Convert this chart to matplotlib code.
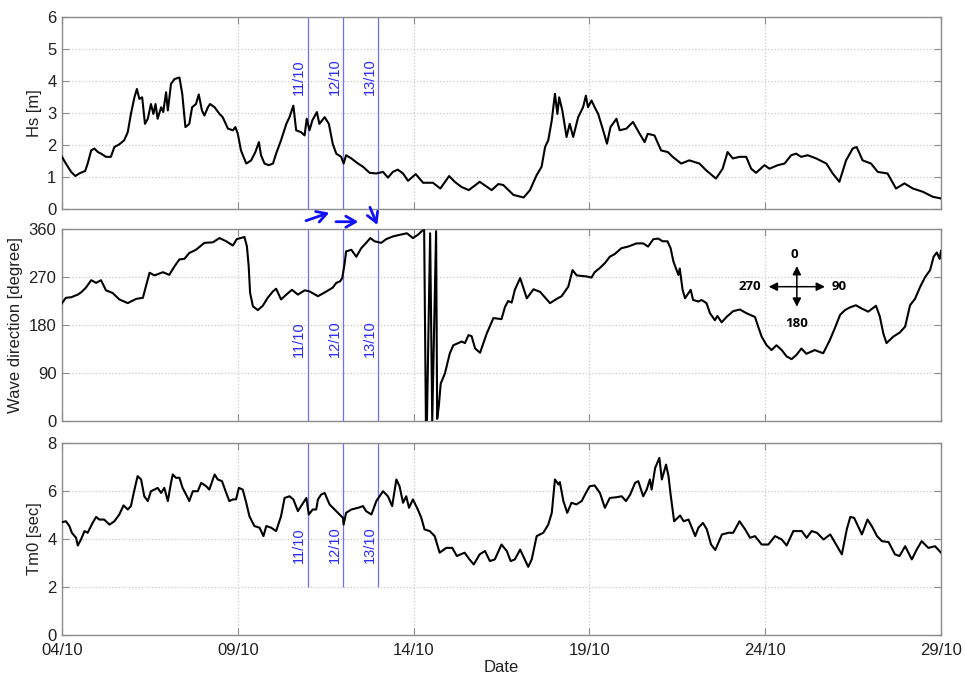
import matplotlib
matplotlib.use("Agg")
import matplotlib.pyplot as plt

plt.rcParams['font.family'] = ['Liberation Sans', 'DejaVu Sans']

# x is days after 04/10 00:00
date_ticks = [0, 5, 10, 15, 20, 25]
date_labels = ['04/10', '09/10', '14/10', '19/10', '24/10', '29/10']
event_days = [7, 8, 9]
event_labels = ['11/10', '12/10', '13/10']

hs_days = [0, 0.11, 0.26, 0.38, 0.49, 0.66, 0.73, 0.83, 0.92, 1.02, 1.11, 1.25, 1.39, 1.49, 1.63, 1.77,
           1.87, 1.96, 2.06, 2.13, 2.2, 2.28, 2.36, 2.44, 2.53, 2.6, 2.66, 2.72, 2.82, 2.88, 2.96, 3.01,
           3.1, 3.2, 3.34, 3.42, 3.51, 3.62, 3.7, 3.81, 3.89, 3.98, 4.05, 4.15, 4.21, 4.34, 4.48, 4.57,
           4.72, 4.86, 4.93, 5.0, 5.09, 5.24, 5.38, 5.5, 5.6, 5.66, 5.76, 5.88, 6.0, 6.09, 6.23, 6.38,
           6.47, 6.58, 6.66, 6.8, 6.9, 6.96, 7.04, 7.12, 7.25, 7.32, 7.47, 7.59, 7.7, 7.8, 7.94, 8.01,
           8.08, 8.23, 8.42, 8.56, 8.75, 8.94, 9.13, 9.27, 9.41, 9.55, 9.7, 9.84, 10.06, 10.27, 10.55,
           10.76, 11.01, 11.17, 11.36, 11.57, 11.88, 12.22, 12.41, 12.55, 12.84, 13.13, 13.31, 13.5,
           13.64, 13.74, 13.83, 13.93, 14.02, 14.09, 14.14, 14.23, 14.35, 14.44, 14.54, 14.68, 14.82,
           14.9, 14.96, 15.06, 15.15, 15.25, 15.39, 15.5, 15.6, 15.77, 15.86, 16.05, 16.24, 16.43,
           16.57, 16.66, 16.85, 17.04, 17.23, 17.37, 17.61, 17.84, 18.13, 18.32, 18.6, 18.79, 18.93,
           19.08, 19.27, 19.46, 19.6, 19.74, 19.98, 20.12, 20.36, 20.55, 20.74, 20.88, 21.02, 21.21,
           21.45, 21.74, 21.92, 22.11, 22.3, 22.49, 22.6, 22.77, 23.01, 23.2, 23.48, 23.72, 23.96,
           24.2, 24.48, 24.77, 25.0]
hs_vals = [1.63, 1.42, 1.16, 1.03, 1.11, 1.19, 1.42, 1.83, 1.89, 1.78, 1.73, 1.63, 1.63, 1.94, 2.02, 2.15,
           2.4, 2.97, 3.49, 3.75, 3.44, 3.49, 2.66, 2.82, 3.28, 2.97, 3.28, 2.82, 3.18, 3.03, 3.65, 3.08,
           3.91, 4.06, 4.11, 3.6, 2.56, 2.66, 3.18, 3.28, 3.58, 3.08, 2.92, 3.18, 3.28, 3.18, 2.97, 2.87,
           2.51, 2.46, 2.56, 2.35, 1.83, 1.42, 1.52, 1.78, 2.09, 1.68, 1.42, 1.37, 1.42, 1.73, 2.15, 2.66,
           2.87, 3.23, 2.46, 2.4, 2.3, 2.82, 2.46, 2.77, 3.03, 2.66, 2.87, 2.66, 2.04, 1.73, 1.63, 1.42,
           1.68, 1.58, 1.42, 1.32, 1.13, 1.11, 1.16, 0.98, 1.16, 1.23, 1.11, 0.88, 1.09, 0.82, 0.82,
           0.64, 1.03, 0.85, 0.69, 0.59, 0.85, 0.59, 0.78, 0.75, 0.44, 0.36, 0.59, 1.06,
           1.32, 1.94, 2.15, 2.77, 3.6, 2.97, 3.49, 3.08, 2.25, 2.66, 2.25, 2.87, 3.18,
           3.54, 3.18, 3.39, 3.18, 2.97, 2.46, 2.04, 2.56, 2.82, 2.46, 2.51, 2.72, 2.35,
           2.09, 2.35, 2.3, 1.83, 1.78, 1.63, 1.42, 1.52, 1.42, 1.21, 0.95, 1.26, 1.78,
           1.58, 1.63, 1.63, 1.26, 1.13, 1.37, 1.26, 1.37, 1.42, 1.68, 1.73, 1.63, 1.68,
           1.58, 1.42, 1.11, 0.85, 1.52, 1.89, 1.94, 1.52, 1.42, 1.16, 1.11, 0.64, 0.8,
           0.64, 0.54, 0.38, 0.33]

dir_days = [0, 0.11, 0.26, 0.45, 0.54, 0.68, 0.83, 0.97, 1.11, 1.25, 1.44, 1.63, 1.87, 2.11, 2.3, 2.39,
            2.49, 2.63, 2.87, 3.05, 3.2, 3.34, 3.48, 3.62, 3.81, 4.05, 4.29, 4.48, 4.67, 4.86, 4.97,
            5.19, 5.26, 5.31, 5.35, 5.43, 5.57, 5.71, 5.85, 6.0, 6.09, 6.23, 6.38, 6.54, 6.71, 6.9,
            7.04, 7.28, 7.47, 7.7, 7.8, 7.91, 7.97, 8.04, 8.08, 8.23, 8.37, 8.51, 8.65, 8.77, 8.89,
            9.08, 9.22, 9.41, 9.6, 9.81, 9.98, 10.12, 10.25, 10.3, 10.35, 10.38, 10.47, 10.53, 10.64,
            10.67, 10.72, 10.77, 10.89, 11.03, 11.13, 11.27, 11.37, 11.46, 11.56, 11.65, 11.75, 11.89,
            12.08, 12.27, 12.5, 12.6, 12.69, 12.79, 12.88, 13.03, 13.22, 13.41, 13.6, 13.88, 14.07,
            14.21, 14.4, 14.52, 14.64, 14.92, 15.06, 15.15, 15.3, 15.44, 15.58, 15.72, 15.91, 16.1,
            16.34, 16.53, 16.67, 16.82, 16.96, 17.08, 17.22, 17.31, 17.39, 17.48, 17.53, 17.57, 17.65,
            17.72, 17.81, 17.88, 17.95, 18.1, 18.19, 18.33, 18.43, 18.57, 18.64, 18.76, 18.9, 19.09,
            19.28, 19.47, 19.71, 19.8, 19.9, 20.04, 20.18, 20.32, 20.47, 20.61, 20.75, 20.89, 21.03,
            21.17, 21.41, 21.65, 21.84, 21.98, 22.13, 22.27, 22.41, 22.58, 22.74, 22.93, 23.15, 23.26,
            23.36, 23.45, 23.64, 23.83, 23.98, 24.12, 24.26, 24.41, 24.55, 24.69, 24.79, 24.88, 24.96,
            25.0]
dir_vals = [221, 231, 232, 237, 241, 250, 264, 259, 264, 245, 240, 228, 221, 229, 231, 253,
            278, 273, 279, 274, 290, 303, 304, 315, 321, 334, 335, 343, 337, 329, 341,
            345, 327, 290, 240, 215, 208, 216, 231, 243, 248, 228, 237, 246, 237, 245,
            243, 234, 241, 250, 259, 262, 268, 296, 318, 321, 308, 324, 334, 343, 337,
            334, 341, 346, 349, 352, 343, 349, 357, 358, 0, 2, 352, 0, 356,
            4, 30, 70, 89, 127, 142, 146, 149, 146, 161, 159, 136, 128,
            164, 193, 191, 214, 225, 222, 246, 268, 230, 247, 242, 221, 229,
            234, 252, 283, 273, 271, 269, 279, 287, 296, 308, 313, 324, 327,
            333, 333, 327, 341, 342, 337, 337, 324, 299, 283, 274, 286, 246,
            230, 239, 246, 227, 224, 227, 221, 202, 189, 197, 185, 195, 206,
            209, 202, 195, 177, 158, 142, 133, 142, 133, 121, 116, 124, 136,
            126, 133, 127, 152, 174, 199, 208, 213, 217, 211, 205, 216, 196,
            164, 146, 158, 166, 177, 217, 229, 252, 270, 283, 308, 316, 304,
            319]

tm_days = [0, 0.11, 0.21, 0.28, 0.4, 0.45, 0.54, 0.64, 0.73, 0.87, 0.97, 1.06, 1.2, 1.35, 1.49, 1.63,
           1.75, 1.87, 1.96, 2.04, 2.15, 2.25, 2.34, 2.44, 2.53, 2.63, 2.72, 2.82, 2.91, 3.01, 3.1,
           3.15, 3.24, 3.34, 3.43, 3.53, 3.62, 3.72, 3.86, 3.96, 4.1, 4.19, 4.34, 4.43, 4.55, 4.67,
           4.76, 4.86, 4.95, 5.03, 5.14, 5.24, 5.33, 5.47, 5.62, 5.73, 5.81, 5.95, 6.09, 6.23, 6.33,
           6.47, 6.58, 6.71, 6.8, 6.95, 7.02, 7.13, 7.23, 7.28, 7.37, 7.47, 7.61, 7.8, 7.99, 8.01,
           8.08, 8.23, 8.42, 8.56, 8.65, 8.8, 8.94, 9.13, 9.27, 9.39, 9.51, 9.6, 9.7, 9.79, 9.87,
           9.98, 10.12, 10.22, 10.31, 10.46, 10.6, 10.74, 10.93, 11.1, 11.23, 11.45, 11.59, 11.71,
           11.88, 12.03, 12.17, 12.31, 12.5, 12.65, 12.76, 12.88, 13.03, 13.14, 13.26, 13.36, 13.5,
           13.69, 13.83, 13.93, 14.02, 14.12, 14.16, 14.26, 14.37, 14.49, 14.63, 14.78, 14.9, 15.01,
           15.15, 15.3, 15.44, 15.58, 15.77, 15.92, 16.04, 16.16, 16.3, 16.39, 16.53, 16.63, 16.72,
           16.77, 16.87, 16.99, 17.06, 17.18, 17.25, 17.31, 17.41, 17.58, 17.68, 17.82, 18.01, 18.1,
           18.23, 18.34, 18.46, 18.58, 18.77, 18.96, 19.09, 19.27, 19.43, 19.57, 19.71, 19.9, 20.09,
           20.28, 20.47, 20.61, 20.8, 21.04, 21.18, 21.32, 21.47, 21.66, 21.85, 21.99, 22.18, 22.32,
           22.42, 22.53, 22.75, 22.91, 23.03, 23.18, 23.32, 23.51, 23.69, 23.82, 23.98, 24.17, 24.31,
           24.45, 24.64, 24.83, 25.0]
tm_vals = [4.7, 4.74, 4.54, 4.26, 4.05, 3.73, 3.98, 4.33, 4.26, 4.67, 4.92, 4.81, 4.81, 4.6, 4.74, 5.02,
           5.4, 5.23, 5.37, 5.92, 6.62, 6.48, 5.78, 5.58, 5.99, 6.06, 6.13, 5.92, 6.13, 5.58, 6.34,
           6.69, 6.55, 6.55, 6.13, 5.85, 5.58, 5.99, 5.99, 6.34, 6.2, 6.06, 6.69, 6.48, 6.41, 5.92,
           5.58, 5.65, 5.65, 6.13, 6.06, 5.51, 4.95, 4.54, 4.47, 4.12, 4.54, 4.47, 4.33, 4.95, 5.71,
           5.78, 5.65, 5.16, 5.37, 5.71, 5.02, 5.23, 5.23, 5.65, 5.85, 5.92, 5.44, 5.16, 4.88, 4.6,
           5.09, 5.23, 5.3, 5.37, 5.16, 5.02, 5.58, 5.99, 5.78, 5.37, 6.48, 6.2, 5.51, 5.78, 5.3,
           5.65, 5.23, 4.88, 4.4, 4.33, 4.12, 3.43, 3.63, 3.63, 3.29, 3.43, 3.15, 2.94,
           3.36, 3.5, 3.08, 3.15, 3.77, 3.5, 3.08, 3.15, 3.56, 3.22, 2.84, 3.15, 4.12,
           4.26, 4.6, 5.09, 6.48, 6.27, 6.37, 5.58, 5.09, 5.51, 5.44, 5.58, 5.92, 6.2,
           6.23, 5.92, 5.3, 5.71, 5.74, 5.78, 5.58, 5.85, 6.34, 6.41, 5.78, 6.06, 6.48,
           6.06, 6.96, 7.38, 6.48, 7.1, 6.62, 5.85, 4.74, 4.98, 4.74, 4.81, 4.12, 4.47,
           4.67, 4.4, 3.77, 3.54, 4.19, 4.26, 4.26, 4.74, 4.4, 4.05, 4.12, 3.77, 3.77,
           4.12, 3.98, 3.73, 4.33, 4.33, 4.05, 4.33, 4.26, 3.98, 4.19, 3.84, 3.36, 4.4,
           4.92, 4.88, 4.19, 4.81, 4.54, 4.12, 3.91, 3.87, 3.36, 3.29, 3.7, 3.15, 3.56,
           3.91, 3.63, 3.7, 3.43]

frame = '#8c8c8c'
grid_c = '#c8c8c8'
blue_line = '#6e6eff'
blue_text = '#2a2aff'

fig = plt.figure(figsize=(9.65, 6.76), dpi=100)
left, width, height = 62 / 965, 879 / 965, 192 / 676
ax1 = fig.add_axes([left, 1 - 209 / 676, width, height])
ax2 = fig.add_axes([left, 1 - 421 / 676, width, height])
ax3 = fig.add_axes([left, 1 - 635 / 676, width, height])

panels = [
    (ax1, hs_days, hs_vals, [0, 1, 2, 3, 4, 5, 6], 'Hs [m]', (0, 6), 3.55),
    (ax2, dir_days, dir_vals, [0, 90, 180, 270, 360], 'Wave direction [degree]', (0, 360), 120),
    (ax3, tm_days, tm_vals, [0, 2, 4, 6, 8], 'Tm0 [sec]', (2, 8), 3.0),
]

for ax, xs, ys, yt, lab, vspan, ytxt in panels:
    ax.plot(xs, ys, color='black', lw=1.5, zorder=3)
    ax.set_xlim(0, 25)
    ax.set_ylim(yt[0], yt[-1])
    ax.set_yticks(yt)
    ax.set_xticks(date_ticks)
    ax.set_xticklabels(date_labels)
    ax.set_ylabel(lab, fontsize=12, color='#202020')
    ax.grid(True, color=grid_c, linestyle=':', linewidth=0.9)
    ax.tick_params(direction='in', top=True, right=True, length=5, color=frame,
                   labelsize=12, labelcolor='#202020', pad=4)
    ax.tick_params(axis='x', pad=6)
    for s in ax.spines.values():
        s.set_color(frame)
        s.set_linewidth(1.0)
    for d, t in zip(event_days, event_labels):
        ax.vlines(d, vspan[0], vspan[1], color=blue_line, lw=0.9, zorder=2)
        ax.text(d - 0.05, ytxt, t, rotation=90, ha='right', va='bottom',
                color=blue_text, fontsize=10.5)

ax1.tick_params(labelbottom=False)
ax2.tick_params(labelbottom=False)
ax3.set_xlabel('Date', fontsize=12, color='#202020', labelpad=1)

# wave direction arrows between the panels
arrow_kw = dict(arrowstyle='->,head_length=0.7,head_width=0.4', color='#1010ff', lw=2,
                shrinkA=0, shrinkB=0)
ax1.annotate('', xy=(0.3412, 0.6854), xytext=(0.3171, 0.6735), xycoords='figure fraction',
             textcoords='figure fraction', arrowprops=arrow_kw)
ax1.annotate('', xy=(0.3713, 0.6720), xytext=(0.3482, 0.6720), xycoords='figure fraction',
             textcoords='figure fraction', arrowprops=arrow_kw)
ax1.annotate('', xy=(0.3910, 0.6672), xytext=(0.3834, 0.6933), xycoords='figure fraction',
             textcoords='figure fraction', arrowprops=arrow_kw)

# compass
cx, cy = 0.836, 0.6995
comp_kw = dict(arrowstyle='-|>,head_length=0.5,head_width=0.25', color='black', lw=1.1,
               shrinkA=0, shrinkB=0)
for tip in [(cx, 0.807), (cx, 0.595), (0.804, cy), (0.868, cy)]:
    ax2.annotate('', xy=tip, xytext=(cx, cy), xycoords='axes fraction',
                 textcoords='axes fraction', arrowprops=comp_kw)
ctxt = dict(transform=ax2.transAxes, fontsize=9.5, fontweight='bold', family='Open Sans',
            ha='center', va='center', color='black')
ax2.text(cx - 0.003, 0.865, '0', **ctxt)
ax2.text(cx, 0.51, '180', **ctxt)
ax2.text(0.782, cy, '270', **ctxt)
ax2.text(0.884, cy, '90', **ctxt)

fig.savefig('out.png', dpi=100)
